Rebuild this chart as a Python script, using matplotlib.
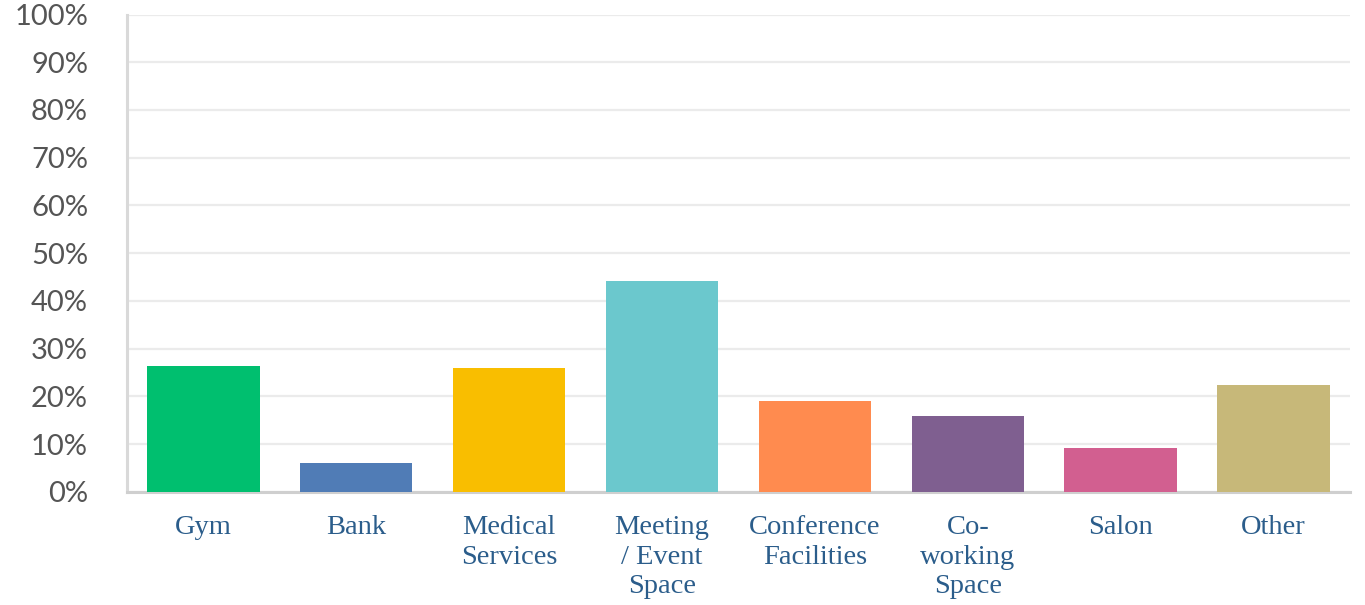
import matplotlib
matplotlib.use("Agg")
import matplotlib.pyplot as plt
from matplotlib.ticker import FuncFormatter

CATEGORIES = [
    "Gym",
    "Bank",
    "Medical\nServices",
    "Meeting\n/ Event\nSpace",
    "Conference\nFacilities",
    "Co-\nworking\nSpace",
    "Salon",
    "Other",
]
VALUES = [26.4, 6.0, 25.9, 44.2, 19.0, 15.9, 9.1, 22.3]
COLORS = ["#00bf6f", "#507cb6", "#f9be00", "#6bc8cd",
          "#ff8b4f", "#7f5f90", "#d25f90", "#c7b879"]
Y_TICKS = list(range(0, 101, 10))


def main():
    fig = plt.figure(figsize=(13.65, 6.05), dpi=100)
    ax = fig.add_axes([0.093, 0.187, 0.896, 0.789])

    x = range(len(CATEGORIES))
    ax.bar(x, VALUES, width=0.735, color=COLORS, zorder=3)

    ax.set_xlim(-0.5, len(CATEGORIES) - 0.5)
    ax.set_ylim(0, 100)
    ax.set_yticks(Y_TICKS)
    ax.yaxis.set_major_formatter(FuncFormatter(lambda v, _: f"{v:.0f}%"))
    ax.set_xticks(list(x))
    ax.set_xticklabels(CATEGORIES, family="Liberation Serif", fontsize=20.5,
                       color="#2b5d8b", linespacing=1.22)

    for lab in ax.get_yticklabels():
        lab.set_family("Lato")
        lab.set_fontsize(21)
        lab.set_color("#555555")

    ax.tick_params(axis="y", length=0, pad=28)
    ax.tick_params(axis="x", length=0, pad=17)

    ax.yaxis.grid(True, color="#ebebeb", linewidth=1.6, zorder=0)
    ax.set_axisbelow(True)

    for side in ("top", "right"):
        ax.spines[side].set_visible(False)
    ax.spines["left"].set_color("#d9d9d9")
    ax.spines["left"].set_linewidth(2.2)
    ax.spines["bottom"].set_color("#cfcfcf")
    ax.spines["bottom"].set_linewidth(2.2)

    fig.savefig("out.png", dpi=100)


if __name__ == "__main__":
    main()
